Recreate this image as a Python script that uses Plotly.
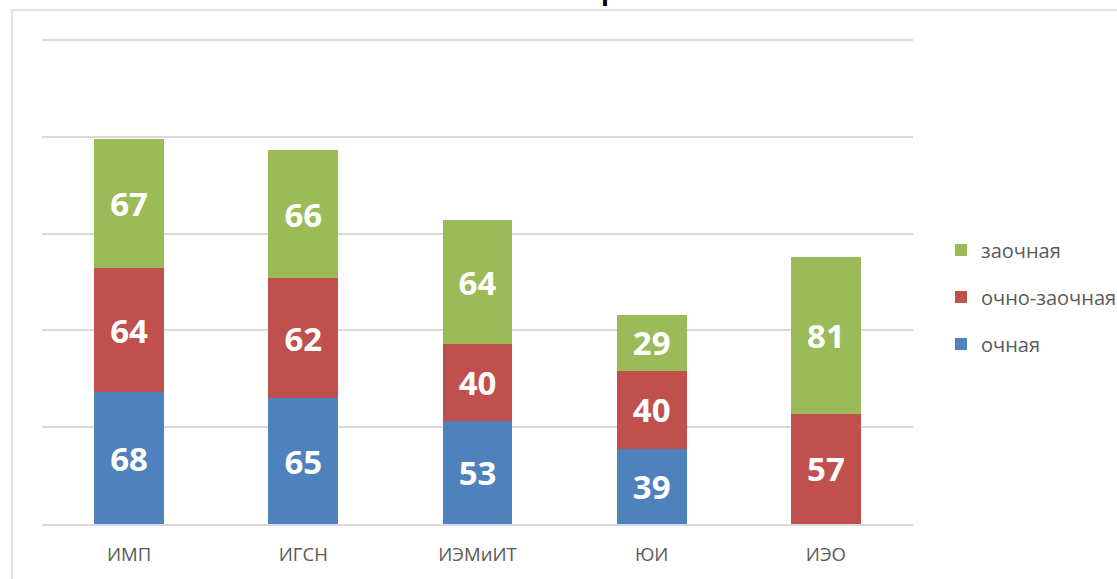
import plotly.graph_objects as go

categories = ["ИМП", "ИГСН", "ИЭМиИТ", "ЮИ", "ИЭО"]
ochnaya = [68, 65, 53, 39, 0]
ochno_zaochnaya = [64, 62, 40, 40, 57]
zaochnaya = [67, 66, 64, 29, 81]
series_names = ["очная", "очно-заочная", "заочная"]
title_text = "Бакалавриат"

colors = ["#4F81BD", "#C0504D", "#9BBB59"]
W, H = 1117, 579
L, R, T, B = 42, 204, 36, 55
pw, ph = W - L - R, H - T - B
ymax = ph * 250 / 484.0

fig = go.Figure()
for i, (name, vals, col) in enumerate(zip(series_names, [ochnaya, ochno_zaochnaya, zaochnaya], colors)):
    fig.add_trace(go.Bar(
        x=categories, y=vals, name=name, legendgroup=name, legendrank=3 - i,
        marker=dict(color=col, line=dict(width=0)),
        text=[str(v) if v else "" for v in vals],
        textposition="inside", insidetextanchor="middle",
        textfont=dict(color="white", size=33, family="Open Sans", weight="bold"),
        hoverinfo="skip",
    ))

def px_x(p):
    return (p - L) / pw

def px_y(p):
    return (H - B - p) / ph

fig.update_layout(
    width=W, height=H,
    barmode="stack", bargap=0.6,
    plot_bgcolor="white", paper_bgcolor="white",
    margin=dict(l=L, r=R, t=T, b=B, autoexpand=False),
    font=dict(family="Open Sans", color="#595959"),
    showlegend=True,
    uniformtext=dict(minsize=33, mode="show"),
    legend=dict(
        x=px_x(941), xanchor="left", y=px_y(297), yanchor="middle",
        traceorder="grouped", tracegroupgap=18,
        font=dict(size=20, color="#595959", family="Open Sans"),
        bgcolor="rgba(0,0,0,0)",
    ),
    xaxis=dict(
        showline=True, linecolor="#D9D9D9", linewidth=1.5,
        showgrid=False, ticks="", ticklabelstandoff=13,
        tickfont=dict(size=18.5, color="#595959", family="Open Sans"),
    ),
    yaxis=dict(
        range=[0, ymax], tickvals=[50, 100, 150, 200, 250], showgrid=True, gridcolor="#D9D9D9",
        gridwidth=1.5, zeroline=False, showticklabels=False, ticks="",
    ),
    shapes=[
        dict(type="line", xref="paper", yref="paper",
             x0=px_x(12), x1=px_x(1130), y0=px_y(10), y1=px_y(10),
             line=dict(color="#D9D9D9", width=1.5)),
        dict(type="line", xref="paper", yref="paper",
             x0=px_x(12), x1=px_x(12), y0=px_y(10), y1=px_y(600),
             line=dict(color="#D9D9D9", width=1.5)),
    ],
    annotations=[
        dict(text="<b>" + title_text + "</b>", xref="paper", yref="paper",
             x=px_x(577), y=px_y(10), xanchor="center", yanchor="bottom",
             showarrow=False, font=dict(size=26, color="#000000", family="Open Sans")),
    ],
)

fig.write_html("out.html", config={"displayModeBar": False},
               post_script="document.body.style.margin='0';document.body.style.overflow='hidden';")
